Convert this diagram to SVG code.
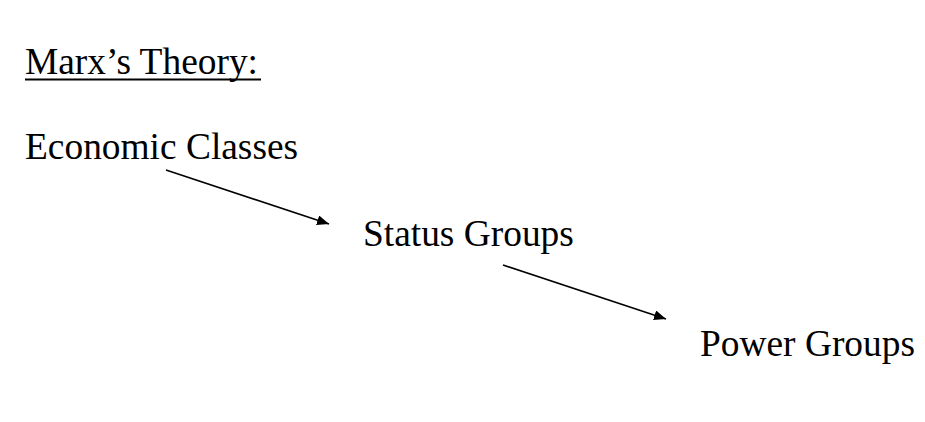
<svg xmlns="http://www.w3.org/2000/svg" width="925" height="422" viewBox="0 0 925 422">
<defs>
<style>
.t{font-family:"Liberation Serif","Times New Roman",serif;font-size:37.4px;fill:#000}
.c{stroke:#000;stroke-width:1.6;fill:none}
</style>
<marker id="ah" viewBox="0 0 12 10" refX="12" refY="5" markerWidth="12" markerHeight="10" markerUnits="userSpaceOnUse" orient="auto">
<path d="M0,0 L12,5 L0,10 Z" fill="#000"/>
</marker>
</defs>
<rect width="925" height="422" fill="#fff"/>
<g id="title">
<text class="t" x="25" y="73.5">Marx’s Theory:</text>
<line x1="25" y1="79.5" x2="261" y2="79.5" stroke="#000" stroke-width="2"/>
</g>
<g id="economic-classes"><text class="t" x="25" y="158.5">Economic Classes</text></g>
<g id="status-groups"><text class="t" x="363" y="245.5">Status Groups</text></g>
<g id="power-groups"><text class="t" x="700" y="355.5">Power Groups</text></g>
<g id="connectors">
<line class="c" x1="166" y1="170" x2="329" y2="224" marker-end="url(#ah)"/>
<line class="c" x1="503" y1="265" x2="666" y2="319" marker-end="url(#ah)"/>
</g>
</svg>
